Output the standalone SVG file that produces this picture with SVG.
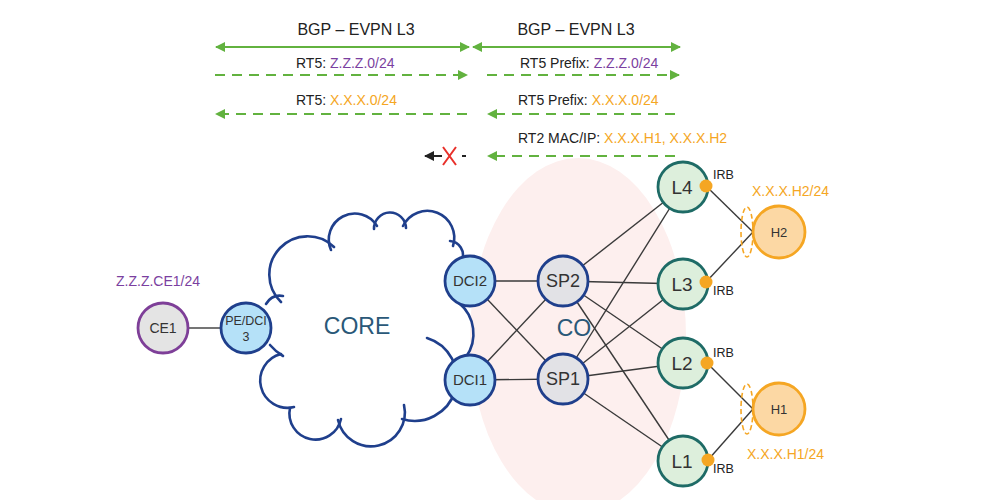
<svg xmlns="http://www.w3.org/2000/svg" width="1008" height="500" viewBox="0 0 1008 500">
<defs>
<marker id="ga" viewBox="0 0 10 10" refX="9" refY="5" markerWidth="5" markerHeight="5" markerUnits="strokeWidth" orient="auto-start-reverse"><path d="M0,0 L10,5 L0,10 Z" fill="#62b23f"/></marker>
<marker id="ka" viewBox="0 0 10 10" refX="9" refY="5" markerWidth="5" markerHeight="5" markerUnits="strokeWidth" orient="auto-start-reverse"><path d="M0,0 L10,5 L0,10 Z" fill="#222"/></marker>
</defs>
<style>
text{font-family:"Liberation Sans",Arial,sans-serif;fill:#333}
.lbl{font-size:14px;fill:#222}
.hdr{font-size:16px;fill:#222}
.pur{fill:#7b3fa0}
.org{fill:#f5a623}
.g{stroke:#62b23f;stroke-width:2;fill:none}
.gd{stroke:#62b23f;stroke-width:2;fill:none;stroke-dasharray:10 7}
.ln{stroke:#3a3a3a;stroke-width:1.4;fill:none}
.cloud{stroke:#1f3f8c;stroke-width:2.6;fill:none;stroke-linecap:round}
.blue{fill:#b5e1f8;stroke:#1f3f8c;stroke-width:2.8}
.sp{fill:#e2e2e6;stroke:#1f3f8c;stroke-width:2.8}
.leaf{fill:#ddefdc;stroke:#1e6b66;stroke-width:2.8}
.host{fill:#fcd8a4;stroke:#f5a623;stroke-width:2.8}
.ce{fill:#e4e4e4;stroke:#7e3f98;stroke-width:2.8}
.irb{fill:#f5a623}
.irbt{font-size:12.5px;fill:#222}
.dash-e{fill:none;stroke:#f5a623;stroke-width:1.6;stroke-dasharray:5 3}
</style>
<rect width="1008" height="500" fill="#ffffff"/>
<ellipse cx="578" cy="336" rx="108" ry="178" fill="#fdefee"/>
<g id="cloud" class="cloud">
<path d="M266 304 Q272 294 283 296"/>
<path d="M281 302 A37 37 0 0 1 334 247"/>
<path d="M331 250 A26 26 0 0 1 377 226"/>
<path d="M374 229 A16 16 0 0 1 406 228"/>
<path d="M403 226 A27 27 0 0 1 453 246"/>
<path d="M450 241 A14 14 0 0 1 462 260"/>
<path d="M459 303 A40 40 0 0 1 466 357"/>
<path d="M427 338 A42 42 0 0 1 402 419"/>
<path d="M404 405 A33 33 0 0 1 338 420"/>
<path d="M341 419 A26 26 0 0 1 290 408"/>
<path d="M294 407 A27 27 0 0 1 281 354"/>
<path d="M283 356 Q276 352 270 345"/>
</g>
<text x="357" y="334" text-anchor="middle" style="font-size:23px;fill:#2a5878">CORE</text>
<text x="574" y="336" text-anchor="middle" style="font-size:23px;fill:#2a5878">CO</text>
<g id="bgp">
<text class="hdr" x="356" y="35" text-anchor="middle">BGP – EVPN L3</text>
<text class="hdr" x="576" y="35" text-anchor="middle">BGP – EVPN L3</text>
<text class="lbl" x="296" y="68">RT5: <tspan class="pur">Z.Z.Z.0/24</tspan></text>
<text class="lbl" x="520" y="68">RT5 Prefix: <tspan class="pur">Z.Z.Z.0/24</tspan></text>
<text class="lbl" x="296" y="105">RT5: <tspan class="org">X.X.X.0/24</tspan></text>
<text class="lbl" x="518" y="105">RT5 Prefix: <tspan class="org">X.X.X.0/24</tspan></text>
<text class="lbl" x="518" y="143">RT2 MAC/IP: <tspan class="org">X.X.X.H1, X.X.X.H2</tspan></text>
</g>
<g id="connectors">
<line class="g" x1="216" y1="47" x2="469" y2="47" marker-start="url(#ga)" marker-end="url(#ga)"/>
<line class="g" x1="473" y1="47" x2="680" y2="47" marker-start="url(#ga)" marker-end="url(#ga)"/>
<line class="gd" x1="215" y1="75" x2="467" y2="75" marker-end="url(#ga)"/>
<line class="gd" x1="487" y1="75" x2="679" y2="75" marker-end="url(#ga)"/>
<line class="gd" x1="467" y1="114" x2="216" y2="114" marker-end="url(#ga)"/>
<line class="gd" x1="675" y1="114" x2="488" y2="114" marker-end="url(#ga)"/>
<line class="gd" x1="675" y1="156" x2="488" y2="156" marker-end="url(#ga)"/>
<line x1="442" y1="156" x2="425" y2="156" stroke="#222" stroke-width="2" marker-end="url(#ka)"/>
<line x1="462" y1="156" x2="466" y2="156" stroke="#222" stroke-width="2"/>
<path d="M443 147 L456 165 M456 147 L443 165" stroke="#e8302a" stroke-width="2" fill="none"/>
<line class="ln" x1="189" y1="328" x2="221" y2="328"/>
<line class="ln" x1="470" y1="281" x2="563" y2="281"/>
<line class="ln" x1="470" y1="281" x2="563" y2="379"/>
<line class="ln" x1="470" y1="380" x2="563" y2="281"/>
<line class="ln" x1="470" y1="380" x2="563" y2="379"/>
<line class="ln" x1="563" y1="281" x2="683" y2="187"/>
<line class="ln" x1="563" y1="281" x2="683" y2="284"/>
<line class="ln" x1="563" y1="281" x2="683" y2="363"/>
<line class="ln" x1="563" y1="281" x2="683" y2="461"/>
<line class="ln" x1="563" y1="379" x2="683" y2="187"/>
<line class="ln" x1="563" y1="379" x2="683" y2="284"/>
<line class="ln" x1="563" y1="379" x2="683" y2="363"/>
<line class="ln" x1="563" y1="379" x2="683" y2="461"/>
<line class="ln" x1="706" y1="186" x2="753" y2="232"/>
<line class="ln" x1="706" y1="282" x2="753" y2="232"/>
<line class="ln" x1="707" y1="363" x2="753" y2="409"/>
<line class="ln" x1="708" y1="460" x2="753" y2="409"/>
</g>
<g id="CE1">
<text x="116" y="286" style="font-size:14px" class="pur">Z.Z.Z.CE1/24</text>
<circle class="ce" cx="163" cy="328" r="25"/>
<text x="163" y="333" text-anchor="middle" style="font-size:14px">CE1</text>
</g>
<g id="PE-DCI3">
<circle class="blue" cx="246" cy="328" r="25"/>
<text x="246" y="325" text-anchor="middle" style="font-size:12.5px">PE/DCI</text>
<text x="246" y="341" text-anchor="middle" style="font-size:12.5px">3</text>
</g>
<g id="DCI2">
<circle class="blue" cx="470" cy="281" r="25"/>
<text x="470" y="286" text-anchor="middle" style="font-size:15px">DCI2</text>
</g>
<g id="DCI1">
<circle class="blue" cx="470" cy="380" r="25"/>
<text x="470" y="385" text-anchor="middle" style="font-size:15px">DCI1</text>
</g>
<g id="SP2">
<circle class="sp" cx="563" cy="281" r="25"/>
<text x="563" y="287" text-anchor="middle" style="font-size:18px">SP2</text>
</g>
<g id="SP1">
<circle class="sp" cx="563" cy="379" r="25"/>
<text x="563" y="385" text-anchor="middle" style="font-size:18px">SP1</text>
</g>
<g id="L4">
<circle class="leaf" cx="683" cy="187" r="25"/>
<text x="682" y="194" text-anchor="middle" style="font-size:19px">L4</text>
<circle class="irb" cx="706" cy="186" r="6.5"/>
<text class="irbt" x="713" y="179">IRB</text>
</g>
<g id="L3">
<circle class="leaf" cx="683" cy="284" r="25"/>
<text x="682" y="291" text-anchor="middle" style="font-size:19px">L3</text>
<circle class="irb" cx="706" cy="282" r="6.5"/>
<text class="irbt" x="713" y="295">IRB</text>
</g>
<g id="L2">
<circle class="leaf" cx="683" cy="363" r="25"/>
<text x="682" y="370" text-anchor="middle" style="font-size:19px">L2</text>
<circle class="irb" cx="707" cy="363" r="6.5"/>
<text class="irbt" x="713" y="357">IRB</text>
</g>
<g id="L1">
<circle class="leaf" cx="683" cy="461" r="25"/>
<text x="682" y="468" text-anchor="middle" style="font-size:19px">L1</text>
<circle class="irb" cx="708" cy="460" r="6.5"/>
<text class="irbt" x="713" y="473">IRB</text>
</g>
<g id="H2">
<text x="752" y="196" class="org" style="font-size:14px">X.X.X.H2/24</text>
<ellipse class="dash-e" cx="747" cy="232" rx="6" ry="25"/>
<circle class="host" cx="779" cy="232" r="26"/>
<text x="779" y="237" text-anchor="middle" style="font-size:13px">H2</text>
</g>
<g id="H1">
<ellipse class="dash-e" cx="747" cy="409" rx="6" ry="25"/>
<circle class="host" cx="779" cy="409" r="26"/>
<text x="779" y="414" text-anchor="middle" style="font-size:13px">H1</text>
<text x="747" y="459" class="org" style="font-size:14px">X.X.X.H1/24</text>
</g>
</svg>
